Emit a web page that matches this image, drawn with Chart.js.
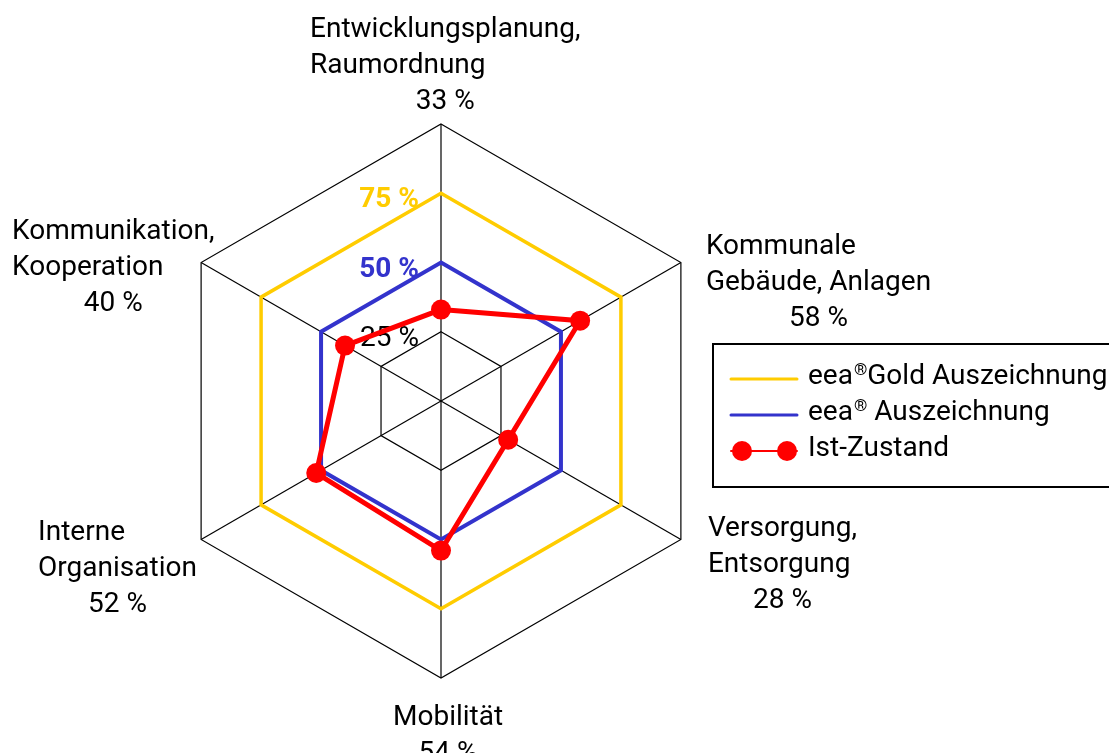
<!DOCTYPE html>
<html lang="de">
<head>
<meta charset="utf-8">
<title>eea Ist-Zustand</title>
<script src="https://cdn.jsdelivr.net/npm/chart.js@4.4.1/dist/chart.umd.min.js"></script>
<style>
  html, body { margin: 0; padding: 0; background: #fff; }
  #wrap { position: relative; width: 1109px; height: 753px; overflow: hidden; }
</style>
</head>
<body>
<div id="wrap"><canvas id="my-chart"></canvas></div>
<script>
'use strict';

// ************* Data **************
let categories = [
  ['Entwicklungsplanung,', 'Raumordnung'],
  ['Kommunale', 'Gebäude, Anlagen'],
  ['Versorgung,', 'Entsorgung'],
  ['Mobilität'],
  ['Interne', 'Organisation'],
  ['Kommunikation,', 'Kooperation']
];
let istZustand = [33, 58, 28, 54, 52, 40];
let goldLevel = [75, 75, 75, 75, 75, 75];
let eeaLevel = [50, 50, 50, 50, 50, 50];
let seriesNames = ['eea®Gold Auszeichnung', 'eea® Auszeichnung', 'Ist-Zustand'];
let tickValues = [25, 50, 75];
let tickLabels = ['25 %', '50 %', '75 %'];

// ************* Styles **************
let gold = '#ffcc00';
let blue = '#3333cc';
let red = '#ff0000';
let fontFamily = 'Roboto, "Liberation Sans", sans-serif';

// label block offsets from the outer vertex of each axis: [dx left edge, dy first baseline]
let labelOffsets = [[-131, -87], [25, -9], [27, -4], [-48, 47], [-163, 0], [-189, -24]];
let lineStep = 36;

// ************* Plugins **************
let tickLabelPlugin = {
  id: 'tickLabelPlugin',
  beforeDatasetsDraw(chart) {
    let ctx = chart.ctx;
    let scale = chart.scales.r;
    let colors = ['#000', blue, gold];
    let weights = ['normal', 'bold', 'bold'];
    ctx.save();
    ctx.textAlign = 'right';
    ctx.textBaseline = 'alphabetic';
    for (let i = 0; i < tickValues.length; i++) {
      let r = scale.getDistanceFromCenterForValue(tickValues[i]);
      ctx.font = weights[i] + ' 28px ' + fontFamily;
      ctx.fillStyle = colors[i];
      ctx.fillText(tickLabels[i], scale.xCenter - 22, scale.yCenter - r + 14);
    }
    ctx.restore();
  }
};

let pointLabelPlugin = {
  id: 'pointLabelPlugin',
  afterDraw(chart) {
    let ctx = chart.ctx;
    let scale = chart.scales.r;
    ctx.save();
    ctx.font = '28px ' + fontFamily;
    ctx.fillStyle = '#000';
    ctx.textBaseline = 'alphabetic';
    for (let i = 0; i < categories.length; i++) {
      let p = scale.getPointPosition(i, scale.drawingArea);
      let left = p.x + labelOffsets[i][0];
      let y = p.y + labelOffsets[i][1];
      let lines = categories[i];
      let maxW = 0;
      ctx.textAlign = 'left';
      lines.forEach((line, j) => {
        maxW = Math.max(maxW, ctx.measureText(line).width);
        ctx.fillText(line, left, y + j * lineStep);
      });
      ctx.textAlign = 'center';
      ctx.fillText(istZustand[i] + ' %', left + maxW / 2, y + lines.length * lineStep);
    }
    ctx.restore();
  }
};

// draws text with the ® sign set small and raised
function fillWithSup(ctx, text, x, y) {
  let parts = text.split('®');
  let cx = x;
  parts.forEach((part, k) => {
    ctx.font = '28px ' + fontFamily;
    ctx.fillText(part, cx, y);
    cx += ctx.measureText(part).width;
    if (k < parts.length - 1) {
      ctx.font = '17px ' + fontFamily;
      ctx.fillText('®', cx + 1, y - 9);
      cx += ctx.measureText('®').width + 1;
    }
  });
}

let boxLegendPlugin = {
  id: 'boxLegendPlugin',
  afterDraw(chart) {
    let ctx = chart.ctx;
    let x0 = 713;
    let y0 = 344;
    ctx.save();
    ctx.fillStyle = '#fff';
    ctx.fillRect(x0, y0, chart.width, 143);
    ctx.strokeStyle = '#000';
    ctx.lineWidth = 2;
    ctx.strokeRect(x0, y0, chart.width, 143);

    ctx.textAlign = 'left';
    ctx.textBaseline = 'alphabetic';
    ctx.lineCap = 'round';
    let colors = [gold, blue, red];
    for (let i = 0; i < seriesNames.length; i++) {
      let baseY = y0 + 40 + i * 36;
      let ly = baseY - 5;
      ctx.strokeStyle = colors[i];
      ctx.lineWidth = i === 2 ? 2 : 3;
      ctx.beginPath();
      ctx.moveTo(x0 + 18, ly);
      ctx.lineTo(x0 + 84, ly);
      ctx.stroke();
      if (i === 2) {
        ctx.fillStyle = red;
        [x0 + 29, x0 + 74].forEach(cx => {
          ctx.beginPath();
          ctx.arc(cx, ly, 10, 0, Math.PI * 2);
          ctx.fill();
        });
      }
      ctx.fillStyle = '#000';
      fillWithSup(ctx, seriesNames[i], x0 + 95, baseY);
    }
    ctx.restore();
  }
};

// ************* Chart **************
let canvasElem = document.getElementById('my-chart');

new Chart(canvasElem, {
  type: 'radar',
  data: {
    labels: categories,
    datasets: [
      {
        label: seriesNames[0],
        data: goldLevel,
        borderColor: gold,
        borderWidth: 3.5,
        pointRadius: 0,
        fill: false,
        order: 3
      },
      {
        label: seriesNames[1],
        data: eeaLevel,
        borderColor: blue,
        borderWidth: 4,
        pointRadius: 0,
        fill: false,
        order: 2
      },
      {
        label: seriesNames[2],
        data: istZustand,
        borderColor: red,
        backgroundColor: red,
        borderWidth: 5,
        pointRadius: 10,
        pointBackgroundColor: red,
        pointBorderColor: red,
        pointBorderWidth: 0,
        fill: false,
        order: 1
      }
    ]
  },
  options: {
    responsive: true,
    maintainAspectRatio: false,
    animation: false,
    layout: {
      padding: { left: 164, right: 391, top: 124, bottom: 75 }
    },
    elements: { line: { tension: 0 } },
    scales: {
      r: {
        min: 0,
        max: 100,
        ticks: { stepSize: 25, display: false },
        grid: { color: '#000', lineWidth: 1.2 },
        angleLines: { color: '#000', lineWidth: 1.2 },
        pointLabels: { display: false }
      }
    },
    plugins: {
      legend: { display: false },
      tooltip: { enabled: false }
    }
  },
  plugins: [tickLabelPlugin, pointLabelPlugin, boxLegendPlugin]
});
</script>
</body>
</html>
